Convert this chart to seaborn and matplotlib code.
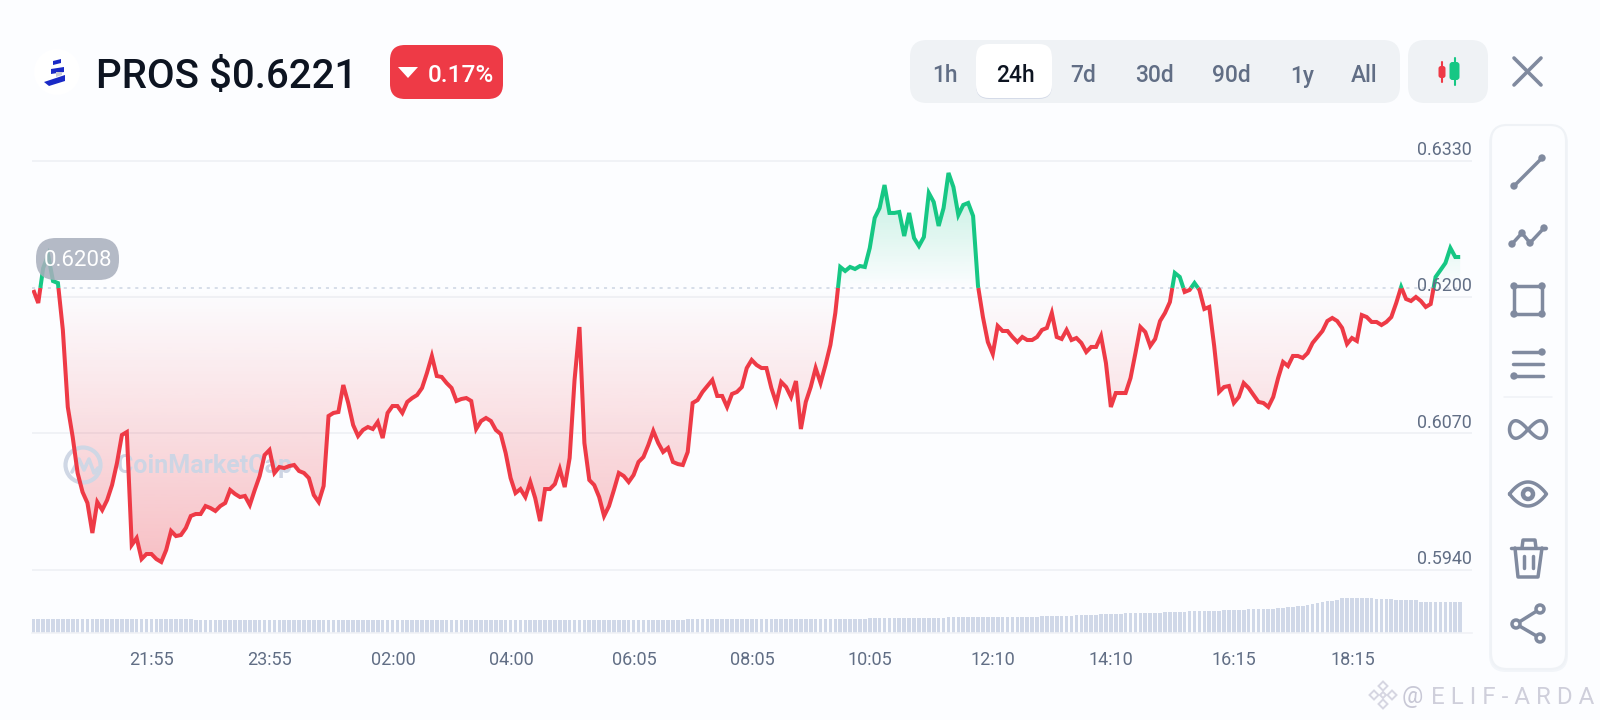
import numpy as np
import pandas as pd
import seaborn as sns
import matplotlib.pyplot as plt
from matplotlib.patches import FancyBboxPatch, Circle, Polygon, Rectangle
from matplotlib.path import Path

# price every 5 minutes
price = [
    .62067, .61943, .62276, .62400, .62152, .62133, .61686, .60952, .60666, .60323,
    .60142, .60037, .59751, .60046, .59970, .60065, .60208, .60418, .60685, .60713,
    .59637, .59703, .59503, .59551, .59551, .59503, .59475, .59589, .59770, .59722,
    .59732, .59799, .59913, .59932, .59932, .60008, .59989, .59961, .60008, .60037,
    .60161, .60123, .60094, .60104, .60018, .60161, .60294, .60494, .60542, .60323,
    .60380, .60370, .60389, .60399, .60342, .60323, .60275, .60113, .60046, .60199,
    .60866, .60895, .60904, .61161, .60990, .60780, .60675, .60733, .60761, .60742,
    .60809, .60656, .60895, .60961, .60961, .60895, .61000, .61037, .61066, .61133,
    .61276, .61438, .61247, .61238, .61180, .61133, .61009, .61028, .61037, .61009,
    .60742, .60818, .60847, .60818, .60733, .60694, .60513, .60275, .60132, .60170,
    .60094, .60237, .60084, .59865, .60170, .60170, .60218, .60361, .60189, .60466,
    .61209, .61714, .60609, .60256, .60208, .60094, .59913, .60008, .60161, .60323,
    .60294, .60237, .60304, .60428, .60475, .60590, .60723, .60609, .60523, .60561,
    .60428, .60408, .60399, .60523, .60990, .61018, .61095, .61152, .61209, .61057,
    .61057, .60952, .61076, .61095, .61142, .61323, .61400, .61352, .61323, .61323,
    .61133, .60990, .61190, .61142, .61047, .61199, .60742, .61000, .61142, .61323,
    .61180, .61352, .61543, .61848, .62286, .62248, .62286, .62267, .62295, .62286,
    .62467, .62753, .62848, .63067, .62801, .62801, .62810, .62581, .62801, .62562,
    .62486, .62572, .62991, .62905, .62677, .62848, .63182, .63048, .62781, .62877,
    .62896, .62772, .62105, .61809, .61571, .61457, .61724, .61676, .61676, .61619,
    .61571, .61619, .61590, .61590, .61619, .61686, .61705, .61848, .61619, .61600,
    .61686, .61590, .61609, .61562, .61476, .61524, .61524, .61628, .61371, .60952,
    .61085, .61085, .61085, .61228, .61466, .61714, .61666, .61533, .61600, .61771,
    .61848, .61952, .62229, .62191, .62048, .62067, .62133, .62067, .61886, .61905,
    .61533, .61095, .61142, .61152, .60990, .61047, .61180, .61133, .61066, .61000,
    .60990, .60952, .61047, .61228, .61381, .61342, .61438, .61438, .61419, .61466,
    .61562, .61619, .61676, .61771, .61800, .61771, .61705, .61552, .61609, .61581,
    .61828, .61809, .61762, .61762, .61733, .61762, .61809, .61943, .62095, .61981,
    .61962, .62000, .61962, .61905, .61933, .62191, .62257, .62324, .62467, .62381,
    .62381,
]
# volume, only the relative height can be read
volume = [
    13.8, 13.8, 13.9, 13.9, 13.9, 13.8, 13.8, 13.8, 13.7, 13.7,
    13.7, 13.6, 13.6, 13.5, 13.5, 13.5, 13.4, 13.4, 13.4, 13.3,
    13.3, 13.3, 13.3, 13.3, 13.3, 13.3, 13.3, 13.3, 13.2, 13.2,
    13.2, 13.2, 13.2, 13.0, 13.0, 12.9, 12.8, 12.8, 12.8, 12.7,
    12.6, 12.5, 12.5, 12.4, 12.4, 12.3, 12.3, 12.2, 12.2, 12.2,
    12.1, 12.1, 12.1, 12.1, 12.1, 12.1, 12.1, 12.1, 12.1, 12.1,
    12.1, 12.1, 12.1, 12.1, 12.1, 12.1, 12.2, 12.2, 12.2, 12.2,
    12.3, 12.3, 12.3, 12.3, 12.4, 12.4, 12.4, 12.4, 12.5, 12.5,
    12.6, 12.6, 12.7, 12.7, 12.8, 12.8, 12.9, 12.9, 13.0, 13.0,
    13.0, 13.0, 13.0, 13.0, 13.0, 13.0, 13.0, 12.9, 12.9, 12.9,
    12.8, 12.7, 12.6, 12.6, 12.5, 12.5, 12.4, 12.4, 12.3, 12.3,
    12.3, 12.4, 12.4, 12.5, 12.5, 12.6, 12.7, 12.7, 12.8, 12.9,
    12.9, 13.0, 13.0, 13.0, 13.0, 13.0, 13.0, 13.0, 13.0, 13.0,
    13.0, 13.0, 13.0, 13.1, 13.1, 13.1, 13.2, 13.2, 13.3, 13.3,
    13.4, 13.4, 13.5, 13.5, 13.5, 13.6, 13.6, 13.6, 13.7, 13.7,
    13.7, 13.7, 13.7, 13.8, 13.8, 13.8, 13.8, 13.8, 13.8, 13.8,
    13.8, 13.9, 13.9, 13.9, 13.9, 13.9, 13.9, 14.0, 14.0, 14.0,
    14.1, 14.1, 14.2, 14.2, 14.3, 14.4, 14.5, 14.5, 14.6, 14.6,
    14.7, 14.8, 14.9, 15.0, 15.0, 15.0, 15.1, 15.1, 15.2, 15.2,
    15.2, 15.2, 15.2, 15.2, 15.3, 15.3, 15.3, 15.3, 15.3, 15.4,
    15.6, 15.7, 15.8, 15.9, 16.0, 16.1, 16.2, 16.3, 16.4, 16.6,
    16.8, 17.0, 17.2, 17.4, 17.6, 17.8, 18.0, 18.2, 18.4, 18.6,
    18.8, 19.0, 19.2, 19.4, 19.4, 19.5, 19.6, 19.7, 19.8, 20.0,
    20.2, 20.4, 20.6, 20.8, 21.0, 21.2, 21.4, 21.6, 21.6, 21.7,
    21.8, 22.0, 22.2, 22.4, 22.6, 22.8, 23.0, 23.1, 23.2, 23.3,
    23.5, 23.7, 24.0, 24.2, 24.5, 25.5, 26.0, 26.5, 27.0, 27.5,
    28.5, 29.5, 30.5, 31.5, 32.0, 33.0, 34.7, 34.7, 34.7, 34.7,
    34.7, 34.7, 34.3, 34.0, 33.8, 33.5, 33.3, 33.0, 32.8, 32.6,
    32.4, 32.4, 30.8, 30.8, 30.8, 30.8, 30.8, 30.8, 30.8, 30.8,
    30.8,
]
base_price = 0.62086
y_ticks = [0.5940, 0.6070, 0.6200, 0.6330]
y_labels = ['0.5940', '0.6070', '0.6200', '0.6330']
# minutes after the first sample
x_ticks = [120.5, 240.5, 365.5, 485.5, 610.5, 730.5, 850.5, 975.5, 1095.5, 1220.5, 1340.5]
x_labels = ['21:55', '23:55', '02:00', '04:00', '06:05', '08:05', '10:05', '12:10', '14:10', '16:15', '18:15']
ranges = ['1h', '24h', '7d', '30d', '90d', '1y', 'All']

BG = '#fcfdff'
RED = '#ee3a46'
GREEN = '#16c784'
GRID = '#f0f2f6'
LABEL = '#616e85'
ICON = '#808a9f'

sns.set_theme(style='white')
plt.rcParams['font.family'] = ['Roboto', 'DejaVu Sans']

minutes = np.arange(len(price)) * 5.0
price = np.array(price)

# split the line where it crosses the open price, so each part gets its colour
rows = []
seg = 0
side = 'up' if price[0] >= base_price else 'down'
for i in range(len(price)):
    rows.append((minutes[i], price[i], seg, side))
    if i + 1 < len(price) and (price[i] - base_price) * (price[i + 1] - base_price) < 0:
        f = (base_price - price[i]) / (price[i + 1] - price[i])
        tc = minutes[i] + f * 5
        rows.append((tc, base_price, seg, side))
        seg += 1
        side = 'up' if side == 'down' else 'down'
        rows.append((tc, base_price, seg, side))
df = pd.DataFrame(rows, columns=['minutes', 'price', 'seg', 'side'])

fig = plt.figure(figsize=(16, 7.2), dpi=100, facecolor=BG)


def px_axes(l, t, r, b, z):
    return fig.add_axes([l / 1600, 1 - b / 720, (r - l) / 1600, (b - t) / 720], zorder=z)


xlim = (-1.35, 1462)

ax_bg = px_axes(0, 0, 1600, 720, 0)
ax_bg.set_xlim(0, 1600)
ax_bg.set_ylim(720, 0)
ax_bg.axis('off')

# price chart
ax = px_axes(32, 140, 1472, 590, 1)
ax.patch.set_alpha(0)
sns.despine(ax=ax, left=True, bottom=True)
ax.axhline(base_price, color='#cdd5e3', lw=1.1, dashes=(2, 3.2), zorder=1.5,
           xmax=(minutes[-1] - xlim[0]) / (xlim[1] - xlim[0]))

t_all = df['minutes'].values
p_all = df['price'].values
grad = np.linspace(0, 1, 256).reshape(-1, 1)
for where, colour, vmax, far in [(p_all <= base_price, RED, 0.32, 0.5942), (p_all >= base_price, GREEN, 0.27, 0.6320)]:
    poly = ax.fill_between(t_all, p_all, base_price, where=where, facecolor='none', linewidth=0)
    clip = Path.make_compound_path(*poly.get_paths())
    rgba = np.zeros((256, 1, 4))
    rgba[..., :3] = plt.matplotlib.colors.to_rgb(colour)
    rgba[..., 3] = grad * vmax
    im = ax.imshow(rgba, extent=(xlim[0], xlim[1], base_price, far), origin='lower', aspect='auto',
                   zorder=1.2, interpolation='bilinear')
    im.set_clip_path(clip, ax.transData)

# watermark goes over the fill and under the line
wm = ax_bg.transData
ax.add_artist(Circle((83, 465), 17.5, fc='none', ec='#cfd7e5', lw=3, transform=wm, zorder=2, clip_on=False))
ax.plot([72, 79, 84, 89, 94, 98], [472, 459, 470, 459, 473, 468], color='#cfd7e5', lw=2.6,
        transform=wm, zorder=2, clip_on=False, scalex=False, scaley=False)
ax.text(117, 466, 'CoinMarketCap', fontsize=18, fontweight='bold', color='#cdd5e4',
        va='center', ha='left', transform=wm, zorder=2, clip_on=False)

sns.lineplot(data=df, x='minutes', y='price', hue='side', units='seg', estimator=None, sort=False,
             palette={'up': GREEN, 'down': RED}, linewidth=2.9, legend=False, ax=ax, zorder=3,
             solid_joinstyle='miter', solid_capstyle='butt')
ax.set_xlim(*xlim)
ax.set_ylim(0.59208, 0.63496)
ax.set_yticks(y_ticks)
ax.set_xticks([])
ax.set_xlabel('')
ax.set_ylabel('')
ax.tick_params(left=False, labelleft=False)
ax.grid(axis='y', color=GRID, lw=1.4)
ax.set_axisbelow(True)
for v, s in zip(y_ticks, y_labels):
    ax.annotate(s, (1, v), xycoords=ax.get_yaxis_transform(), xytext=(0, 4.2), textcoords='offset points',
                ha='right', va='baseline', fontsize=12.9, color=LABEL, zorder=4)

# volume strip with the time labels
ax_vol = px_axes(32, 590, 1472, 632.5, 1)
ax_vol.patch.set_alpha(0)
sns.barplot(x=minutes, y=volume, native_scale=True, color='#d0d8e8', width=0.74, saturation=1, linewidth=0, ax=ax_vol)
ax_vol.set_xlim(*xlim)
ax_vol.set_ylim(0, 42.5)
ax_vol.set_xticks(x_ticks)
ax_vol.set_xticklabels(x_labels, fontsize=13, color=LABEL)
ax_vol.set_yticks([])
ax_vol.set_ylabel('')
ax_vol.tick_params(bottom=False, pad=7)
sns.despine(ax=ax_vol, left=True)
ax_vol.spines['bottom'].set_color(GRID)
ax_vol.spines['bottom'].set_linewidth(1.2)

# everything around the chart, in pixel coordinates
ui = px_axes(0, 0, 1600, 720, 2)
ui.set_xlim(0, 1600)
ui.set_ylim(720, 0)
ui.axis('off')
ui.patch.set_alpha(0)


def box(x0, y0, x1, y1, r, **kw):
    ui.add_patch(FancyBboxPatch((x0 + r, y0 + r), x1 - x0 - 2 * r, y1 - y0 - 2 * r,
                                boxstyle=f'round,pad={r},rounding_size={r}', **kw))


# header
ui.add_patch(Circle((57, 72), 23, fc='white', ec='none'))
ui.add_patch(Polygon([(44, 82), (65, 75), (65, 81), (49, 86)], fc='#1a2ac6', ec='none'))
ui.add_patch(Polygon([(51, 69), (64, 67), (64, 72), (51, 74)], fc='#1a2ac6', ec='none'))
ui.add_patch(Polygon([(53, 61), (61, 59), (61, 63), (53, 65)], fc='#1a2ac6', ec='none'))
ui.add_patch(Polygon([(56, 72), (62, 72), (62, 75), (56, 77)], fc='#c9ccd6', ec='none'))
ui.text(96.5, 77, 'PROS $0.6221', fontsize=29, color='#0d1421', fontweight='medium', va='center', ha='left')
box(390, 45, 503, 99, 15, fc=RED, ec='none')
ui.add_patch(Polygon([(398, 67), (418, 67), (408, 78)], fc='white', ec='none'))
ui.text(428, 75, '0.17%', fontsize=17.6, color='white', fontweight='medium', va='center', ha='left')

# range selector
box(910, 40, 1400, 103, 17, fc='#eff2f5', ec='none')
box(976, 45, 1052, 99, 13, fc='#d5dbe8', ec='none')
box(976, 44, 1052, 98, 13, fc='white', ec='none')
for s, x in zip(ranges, [945, 1015, 1083, 1154, 1231, 1302, 1364]):
    ui.text(x, 76, s, fontsize=16.4, fontweight='medium', ha='center', va='center',
            color='#0d1421' if s == '24h' else '#616e85')
box(1408, 40, 1488, 103, 17, fc='#eff2f5', ec='none')
ui.plot([1442, 1442], [62, 82], color=RED, lw=1.5)
box(1438.5, 66, 1445.5, 78, 2.5, fc=RED, ec='none')
ui.plot([1454.5, 1454.5], [58, 85], color=GREEN, lw=1.5)
box(1449.5, 62, 1459.5, 80, 3, fc=GREEN, ec='none')
ui.plot([1514, 1541], [58, 85], color=ICON, lw=2.6)
ui.plot([1514, 1541], [85, 58], color=ICON, lw=2.6)

# price pill
box(36, 238, 119, 280, 20, fc='#a9afbd', ec='none', alpha=0.86)
ui.text(78, 261, '0.6208', fontsize=16, color='white', ha='center', va='center')

# tool bar
box(1489, 126, 1568, 672, 17, fc='#f2f5f9', ec='none')
box(1491, 125, 1566, 669, 16, fc=BG, ec='#eff2f6', lw=1.5)
lw = 2.5


def dots(pts, r=3.7):
    for p in pts:
        ui.add_patch(Circle(p, r, fc=ICON, ec='none'))


ui.plot([1514, 1542], [186, 158], color=ICON, lw=lw)
dots([(1514, 186), (1542, 158)])
pts = [(1512, 244), (1522, 233), (1530, 243), (1544, 228)]
ui.plot(*zip(*pts), color=ICON, lw=lw)
dots(pts)
ui.add_patch(Rectangle((1514, 286), 28, 28, fc='none', ec=ICON, lw=lw))
dots([(1514, 286), (1542, 286), (1542, 314), (1514, 314)])
ui.plot([1513, 1542], [352, 352], color=ICON, lw=lw, solid_capstyle='round')
ui.plot([1513, 1543], [364, 364], color=ICON, lw=lw, solid_capstyle='round')
ui.plot([1514, 1543], [376, 376], color=ICON, lw=lw, solid_capstyle='round')
dots([(1542, 352), (1514, 376)])
ui.plot([1504, 1552], [397, 397], color='#eff2f6', lw=1.1)
u = np.linspace(0, 2 * np.pi, 100)
ui.plot(1528 + 18.5 * np.sin(u), 429.5 + 8.5 * np.sin(2 * u) * (0.9 + 0.25 * np.cos(u) ** 2), color=ICON, lw=lw)
u = np.linspace(-1, 1, 50)
ui.plot(np.r_[1528 + 18.5 * u, 1528 - 18.5 * u], np.r_[494 - 12 * (1 - u ** 2), 494 + 12 * (1 - u ** 2)],
        color=ICON, lw=lw, solid_joinstyle='round')
ui.add_patch(Circle((1528, 494), 5, fc='none', ec=ICON, lw=3.2))
ui.plot([1511, 1546], [548, 548], color=ICON, lw=lw, solid_capstyle='round')
ui.plot([1522, 1523, 1535, 1536], [548, 540, 540, 548], color=ICON, lw=lw)
ui.plot([1515, 1518, 1538, 1542], [548, 577, 577, 548], color=ICON, lw=lw, solid_joinstyle='round')
ui.plot([1523.5, 1523.5], [556, 568], color=ICON, lw=lw)
ui.plot([1532.5, 1532.5], [556, 568], color=ICON, lw=lw)
ui.plot([1540, 1516, 1540], [609, 624, 638], color=ICON, lw=lw)
for p in [(1540, 609), (1516, 624), (1540, 638)]:
    ui.add_patch(Circle(p, 4, fc=BG, ec=ICON, lw=lw, zorder=3))

# signature, bottom right
for dx, dy, r in [(0, -9, 4.5), (-9, 0, 4.5), (9, 0, 4.5), (0, 9, 4.5), (0, 0, 3)]:
    ui.add_patch(Polygon([(1383 + dx - r, 695 + dy), (1383 + dx, 695 + dy - r), (1383 + dx + r, 695 + dy),
                          (1383 + dx, 695 + dy + r)], fc='none', ec='#d6d6e2', lw=1.4))
ui.text(1402, 697, '@', fontsize=17, color='#c8c8d6', va='center', ha='left')
ui.text(1431, 697, 'E L I F - A R D A', fontsize=17.4, color='#cfcfdb', va='center', ha='left')

fig.savefig('out.png', dpi=100, facecolor=BG)
